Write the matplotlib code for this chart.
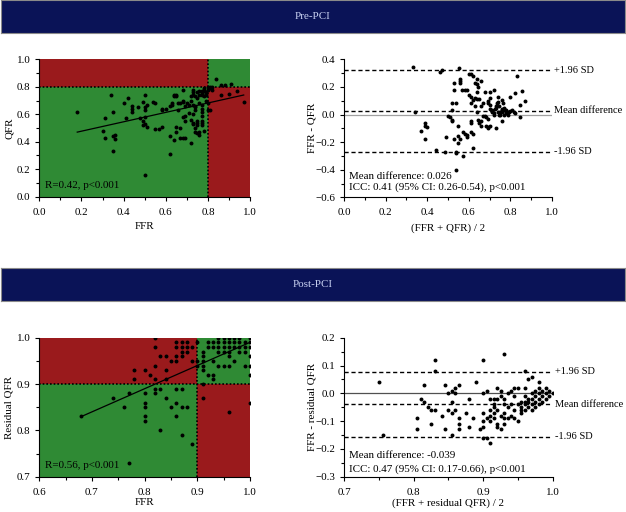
import matplotlib
matplotlib.use("Agg")
import matplotlib.pyplot as plt
from matplotlib.patches import Rectangle
from matplotlib.ticker import MultipleLocator

plt.rcParams["font.family"] = ["Liberation Serif", "DejaVu Serif"]
plt.rcParams["font.size"] = 7.9

RED = "#9a1a1c"
GREEN = "#2f8a34"
NAVY = "#0a1357"

# pre-PCI scatter (FFR, QFR)
pre_ffr = [0.18, 0.30, 0.31, 0.31, 0.34, 0.35, 0.35, 0.36, 0.36, 0.35,
           0.40, 0.41, 0.42, 0.44, 0.44, 0.44, 0.47, 0.48, 0.49, 0.50,
           0.50, 0.50, 0.50, 0.49, 0.49, 0.50, 0.51, 0.50, 0.51, 0.54,
           0.55, 0.55, 0.57, 0.58, 0.58, 0.58, 0.60, 0.62, 0.62, 0.62,
           0.63, 0.63, 0.64, 0.64, 0.65, 0.64, 0.65, 0.65, 0.65, 0.66,
           0.66, 0.67, 0.67, 0.67, 0.68, 0.69, 0.68, 0.68, 0.68, 0.69,
           0.68, 0.69, 0.69, 0.70, 0.71, 0.71, 0.72, 0.72, 0.72, 0.72,
           0.73, 0.73, 0.73, 0.73, 0.73, 0.74, 0.73, 0.74, 0.74, 0.74,
           0.73, 0.74, 0.74, 0.75, 0.75, 0.75, 0.75, 0.76, 0.75, 0.76,
           0.77, 0.77, 0.77, 0.77, 0.78, 0.78, 0.78, 0.76, 0.77, 0.77,
           0.77, 0.77, 0.77, 0.77, 0.77, 0.78, 0.76, 0.79, 0.80, 0.80,
           0.80, 0.80, 0.81, 0.82, 0.81, 0.84, 0.82, 0.81, 0.86, 0.88,
           0.91, 0.90, 0.94, 0.86, 0.97, 0.79, 0.78, 0.76, 0.79, 0.75]
pre_qfr = [0.62, 0.48, 0.57, 0.43, 0.74, 0.62, 0.33, 0.45, 0.42, 0.44,
           0.68, 0.57, 0.72, 0.66, 0.64, 0.62, 0.65, 0.57, 0.69, 0.74,
           0.65, 0.63, 0.58, 0.55, 0.52, 0.53, 0.51, 0.16, 0.67, 0.69,
           0.68, 0.49, 0.49, 0.51, 0.64, 0.63, 0.64, 0.44, 0.66, 0.31,
           0.68, 0.67, 0.41, 0.74, 0.74, 0.73, 0.73, 0.47, 0.51, 0.63,
           0.68, 0.68, 0.50, 0.43, 0.43, 0.43, 0.78, 0.70, 0.69, 0.66,
           0.58, 0.55, 0.59, 0.68, 0.67, 0.61, 0.39, 0.73, 0.70, 0.56,
           0.53, 0.54, 0.78, 0.76, 0.74, 0.73, 0.67, 0.66, 0.65, 0.63,
           0.60, 0.50, 0.47, 0.55, 0.54, 0.52, 0.46, 0.45, 0.76, 0.77,
           0.77, 0.75, 0.76, 0.74, 0.77, 0.78, 0.79, 0.68, 0.67, 0.64,
           0.62, 0.59, 0.55, 0.54, 0.52, 0.48, 0.47, 0.70, 0.68, 0.63,
           0.78, 0.80, 0.80, 0.80, 0.79, 0.86, 0.78, 0.63, 0.81, 0.81,
           0.82, 0.75, 0.77, 0.74, 0.69, 0.74, 0.73, 0.74, 0.76, 0.72]
pre_fit_x = [0.18, 0.97]
pre_fit_y = [0.47, 0.74]

# pre-PCI Bland-Altman (mean, difference)
pre_ba_mean = [0.33, 0.34, 0.37, 0.39, 0.39, 0.40, 0.39, 0.44, 0.46, 0.47,
               0.485, 0.49, 0.50, 0.51, 0.52, 0.53, 0.52, 0.52, 0.52, 0.53,
               0.53, 0.54, 0.54, 0.54, 0.55, 0.54, 0.55, 0.55, 0.56, 0.555,
               0.56, 0.56, 0.56, 0.565, 0.57, 0.57, 0.58, 0.59, 0.59, 0.58,
               0.59, 0.61, 0.61, 0.60, 0.61, 0.62, 0.61, 0.62, 0.62, 0.60,
               0.61, 0.61, 0.63, 0.64, 0.64, 0.645, 0.62, 0.63, 0.64, 0.63,
               0.64, 0.645, 0.65, 0.66, 0.66, 0.64, 0.65, 0.66, 0.66, 0.67,
               0.67, 0.68, 0.68, 0.685, 0.69, 0.69, 0.70, 0.685, 0.69, 0.69,
               0.69, 0.70, 0.70, 0.71, 0.71, 0.70, 0.70, 0.71, 0.72, 0.72,
               0.725, 0.73, 0.73, 0.735, 0.74, 0.745, 0.75, 0.75, 0.76, 0.76,
               0.73, 0.72, 0.74, 0.745, 0.76, 0.765, 0.77, 0.775, 0.76, 0.78,
               0.78, 0.79, 0.795, 0.80, 0.81, 0.815, 0.82, 0.80, 0.82, 0.83,
               0.845, 0.845, 0.855, 0.87, 0.77, 0.75, 0.79, 0.74, 0.76, 0.78]
pre_ba_diff = [0.345, 0.02, -0.12, -0.06, -0.08, -0.09, -0.18, -0.26, 0.31, 0.32,
               -0.27, -0.16, -0.01, -0.02, 0.08, 0.23, 0.03, -0.04, -0.05, 0.18,
               -0.18, -0.28, -0.27, 0.08, -0.08, -0.40, -0.21, -0.155, -0.18, 0.335,
               0.26, 0.245, 0.23, 0.18, -0.30, -0.125, -0.14, -0.15, -0.16, 0.18,
               0.175, -0.045, -0.06, 0.29, 0.29, 0.28, -0.13, -0.14, -0.245, 0.14,
               0.125, 0.085, 0.225, 0.22, 0.26, 0.20, 0.105, 0.12, 0.11, 0.06,
               0.02, -0.04, -0.06, -0.05, -0.08, 0.165, 0.11, 0.24, 0.06, 0.08,
               -0.01, -0.01, 0.165, -0.08, -0.09, -0.095, -0.08, -0.02, -0.03, 0.10,
               0.08, 0.07, 0.04, 0.03, 0.025, 0.12, 0.16, 0.02, -0.005, 0.01,
               0.04, 0.05, 0.065, 0.08, 0.09, 0.06, 0.02, 0.0, 0.03, 0.04,
               -0.10, 0.18, 0.13, -0.005, 0.105, 0.08, 0.045, 0.035, -0.045, 0.02,
               0.01, 0.0, 0.015, 0.025, 0.035, 0.02, 0.01, 0.13, 0.155, 0.28,
               -0.015, 0.07, 0.17, 0.10, 0.0, 0.01, 0.02, 0.02, 0.015, 0.03]
pre_stats = {"mean": 0.026, "upper": 0.32, "lower": -0.27}

# post-PCI scatter (FFR, residual QFR)
post_ffr = [0.68, 0.77, 0.74, 0.76, 0.77, 0.78, 0.78, 0.80, 0.80, 0.80, 0.80, 0.80, 0.80, 0.81,
            0.82, 0.82, 0.82, 0.82, 0.82, 0.82, 0.83, 0.83, 0.83, 0.84, 0.84, 0.84, 0.84,
            0.85, 0.85, 0.86, 0.86, 0.86, 0.86, 0.86, 0.86, 0.86,
            0.87, 0.87, 0.87, 0.87, 0.87, 0.87, 0.87, 0.88, 0.88, 0.88, 0.88,
            0.89, 0.89, 0.89, 0.90, 0.90, 0.90,
            0.91, 0.91, 0.91, 0.91, 0.91, 0.91, 0.91, 0.92, 0.92, 0.92,
            0.93, 0.93, 0.93, 0.93, 0.93, 0.94, 0.94, 0.94, 0.94, 0.94,
            0.95, 0.95, 0.95, 0.95, 0.95, 0.96, 0.96, 0.96, 0.96, 0.96, 0.96, 0.96,
            0.97, 0.97, 0.97, 0.97, 0.98, 0.98, 0.98, 0.98, 0.99, 0.99, 0.99, 0.99,
            1.00, 1.00, 1.00, 1.00, 1.00, 1.00, 1.00]
post_rqfr = [0.83, 0.73, 0.87, 0.85, 0.88, 0.93, 0.91, 0.93, 0.88, 0.86, 0.85, 0.83, 0.82, 0.92,
             1.00, 0.98, 0.94, 0.91, 0.89, 0.88, 0.96, 0.89, 0.80, 0.96, 0.93, 0.91, 0.87,
             0.95, 0.85, 0.99, 0.98, 0.96, 0.95, 0.89, 0.86, 0.83,
             0.99, 0.98, 0.97, 0.96, 0.89, 0.85, 0.79, 0.99, 0.98, 0.97, 0.85,
             0.98, 0.95, 0.77, 0.99, 0.95, 0.94,
             0.97, 0.96, 0.95, 0.94, 0.93, 0.90, 0.87, 0.99, 0.98, 0.92,
             0.99, 0.98, 0.95, 0.92, 0.91, 1.00, 0.99, 0.98, 0.97, 0.94,
             1.00, 0.99, 0.98, 0.97, 0.94, 1.00, 0.99, 0.98, 0.97, 0.96, 0.94, 0.84,
             1.00, 0.99, 0.98, 0.95, 1.00, 0.99, 0.98, 0.97, 0.99, 0.98, 0.97, 0.94,
             1.00, 0.99, 0.98, 0.96, 0.94, 0.92, 0.86]
post_fit_x = [0.68, 1.00]
post_fit_y = [0.83, 0.99]

# post-PCI Bland-Altman (mean, difference)
post_ba_mean = [0.75, 0.755, 0.805, 0.805, 0.81, 0.815, 0.815, 0.82, 0.825, 0.83, 0.825, 0.83, 0.83,
                0.84, 0.845, 0.845, 0.85, 0.85, 0.855, 0.855, 0.855, 0.855, 0.86, 0.86, 0.86,
                0.865, 0.865, 0.865, 0.865, 0.875, 0.88, 0.88, 0.885, 0.89, 0.895, 0.90, 0.90,
                0.90, 0.90, 0.90, 0.90, 0.905, 0.905, 0.905, 0.91, 0.91, 0.91, 0.91, 0.91,
                0.915, 0.915, 0.915, 0.915, 0.915, 0.92, 0.92, 0.92, 0.92, 0.92,
                0.925, 0.925, 0.925, 0.925, 0.93, 0.93, 0.93, 0.93, 0.93, 0.93,
                0.935, 0.935, 0.935, 0.94, 0.94, 0.94, 0.945, 0.945, 0.945, 0.945, 0.95, 0.95,
                0.955, 0.955, 0.955, 0.96, 0.96, 0.96, 0.96, 0.96, 0.965, 0.965, 0.965, 0.965,
                0.97, 0.97, 0.97, 0.97, 0.97, 0.975, 0.975, 0.975, 0.975, 0.98, 0.98, 0.98,
                0.98, 0.98, 0.985, 0.985, 0.985, 0.99, 0.99, 0.99, 0.995, 0.995, 1.0,
                0.95, 0.955, 0.96]
post_ba_diff = [0.04, -0.15, -0.09, -0.13, -0.02, 0.03, -0.03, -0.05, -0.06, -0.06, -0.11, 0.12, 0.08,
                -0.08, 0.03, -0.13, 0.0, -0.06, 0.01, -0.03, -0.07, -0.15, 0.02, 0.0, -0.06,
                0.03, -0.09, -0.11, -0.13, -0.07, -0.02, -0.12, -0.09, 0.04, -0.13, -0.12, 0.12,
                0.0, -0.10, -0.07, -0.16, -0.16, 0.01, -0.09, -0.02, -0.18, -0.06, -0.08, -0.10,
                -0.02, -0.04, -0.05, -0.07, -0.09, 0.02, -0.02, -0.06, -0.11, -0.12,
                0.01, -0.01, -0.08, -0.13, 0.14, -0.02, -0.04, -0.07, -0.09, -0.11,
                0.0, -0.05, -0.09, 0.01, -0.04, -0.08, 0.02, -0.01, -0.06, -0.09, 0.02, -0.10,
                -0.05, -0.06, -0.07, 0.08, 0.02, -0.01, -0.04, -0.06, 0.05, -0.02, -0.03, -0.05,
                0.06, 0.0, -0.02, -0.04, -0.06, 0.01, -0.01, -0.03, -0.05, 0.04, 0.02, 0.0,
                -0.02, -0.04, 0.01, -0.01, -0.03, 0.02, 0.0, -0.02, 0.01, -0.01, 0.0,
                -0.04, -0.03, -0.03]
post_stats = {"mean": -0.039, "upper": 0.078, "lower": -0.156}


def banner(fig, bottom, text):
    ax = fig.add_axes([0.002, bottom, 0.996, 0.0645])
    ax.set_xticks([])
    ax.set_yticks([])
    ax.set_facecolor(NAVY)
    for sp in ax.spines.values():
        sp.set_color("#8a8a8a")
        sp.set_linewidth(0.8)
    ax.text(0.5, 0.5, text, color="#c9d2f2", ha="center", va="center",
            transform=ax.transAxes, fontsize=7.9)


def style_axes(ax, xlim, ylim, xmaj, ymaj):
    ax.set_xlim(xlim)
    ax.set_ylim(ylim)
    ax.spines["top"].set_visible(False)
    ax.spines["right"].set_visible(False)
    ax.xaxis.set_major_locator(MultipleLocator(xmaj))
    ax.xaxis.set_minor_locator(MultipleLocator(xmaj / 2))
    ax.yaxis.set_major_locator(MultipleLocator(ymaj))
    ax.yaxis.set_minor_locator(MultipleLocator(ymaj / 2))
    ax.tick_params(which="major", direction="out", length=3, width=0.8)
    ax.tick_params(which="minor", direction="out", length=2, width=0.8)
    ax.tick_params(axis="x", which="major", pad=5)


def quadrants(ax, x, y, cut, lo, hi):
    ax.add_patch(Rectangle((lo[0], cut), cut - lo[0], hi[1] - cut, color=RED, lw=0, zorder=0))
    ax.add_patch(Rectangle((cut, lo[1]), hi[0] - cut, cut - lo[1], color=RED, lw=0, zorder=0))
    ax.add_patch(Rectangle((lo[0], lo[1]), cut - lo[0], cut - lo[1], color=GREEN, lw=0, zorder=0))
    ax.add_patch(Rectangle((cut, cut), hi[0] - cut, hi[1] - cut, color=GREEN, lw=0, zorder=0))
    ax.axvline(cut, color="black", ls=(0, (1, 1.2)), lw=1.2, zorder=1)
    ax.axhline(cut, color="black", ls=(0, (1, 1.2)), lw=1.2, zorder=1)
    ax.scatter(x, y, s=8, color="black", zorder=3, linewidths=0)


def bland(ax, m, d, st, zero_col):
    ax.axhline(0, color=zero_col, lw=0.9, zorder=1)
    for key, lab in (("upper", "+1.96 SD"), ("mean", "Mean difference"), ("lower", "-1.96 SD")):
        ax.axhline(st[key], xmax=0.99, color="black", ls=(0, (3, 2)), lw=1.0, zorder=2)
        ax.text(1.01, st[key], lab, va="center", ha="left", clip_on=False,
                fontsize=7.5, transform=ax.get_yaxis_transform())
    ax.scatter(m, d, s=8, color="black", zorder=3, linewidths=0)


def main():
    fig = plt.figure(figsize=(6.26, 5.12), dpi=100)
    banner(fig, 1 - 33 / 512, "Pre-PCI")
    banner(fig, 1 - 301 / 512, "Post-PCI")

    ax1 = fig.add_axes([0.0628, 0.6158, 0.3366, 0.2684])
    quadrants(ax1, pre_ffr, pre_qfr, 0.8, (0, 0), (1, 1))
    ax1.plot(pre_fit_x, pre_fit_y, color="black", lw=0.9, zorder=2)
    style_axes(ax1, (0, 1), (0, 1), 0.2, 0.2)
    ax1.set_xlabel("FFR", labelpad=4)
    ax1.set_ylabel("QFR", labelpad=2)
    ax1.text(0.027, 0.08, "R=0.42, p<0.001", transform=ax1.transAxes, va="center")

    ax2 = fig.add_axes([0.5495, 0.6146, 0.3323, 0.2696])
    bland(ax2, pre_ba_mean, pre_ba_diff, pre_stats, "#a0a0a0")
    style_axes(ax2, (0, 1), (-0.6, 0.4), 0.2, 0.2)
    ax2.set_xlabel("(FFR + QFR) / 2", labelpad=4)
    ax2.set_ylabel("FFR - QFR", labelpad=-1)
    ax2.text(0.024, 0.15, "Mean difference: 0.026", transform=ax2.transAxes, va="center")
    ax2.text(0.024, 0.07, "ICC: 0.41 (95% CI: 0.26-0.54), p<0.001", transform=ax2.transAxes, va="center")

    ax3 = fig.add_axes([0.0628, 0.0689, 0.3366, 0.2715])
    quadrants(ax3, post_ffr, post_rqfr, 0.9, (0.6, 0.7), (1, 1))
    ax3.plot(post_fit_x, post_fit_y, color="black", lw=0.9, zorder=2)
    style_axes(ax3, (0.6, 1), (0.7, 1), 0.1, 0.1)
    ax3.set_xlabel("FFR", labelpad=1)
    ax3.set_ylabel("Residual QFR", labelpad=2)
    ax3.text(0.027, 0.08, "R=0.56, p<0.001", transform=ax3.transAxes, va="center")

    ax4 = fig.add_axes([0.55, 0.0689, 0.3329, 0.2715])
    bland(ax4, post_ba_mean, post_ba_diff, post_stats, "#505050")
    style_axes(ax4, (0.7, 1), (-0.3, 0.2), 0.1, 0.1)
    ax4.set_xlabel("(FFR + residual QFR) / 2", labelpad=1)
    ax4.set_ylabel("FFR - residual QFR", labelpad=-1)
    ax4.text(0.024, 0.152, "Mean difference: -0.039", transform=ax4.transAxes, va="center")
    ax4.text(0.024, 0.056, "ICC: 0.47 (95% CI: 0.17-0.66), p<0.001", transform=ax4.transAxes, va="center")

    fig.savefig("out.png", dpi=100)


if __name__ == "__main__":
    main()
